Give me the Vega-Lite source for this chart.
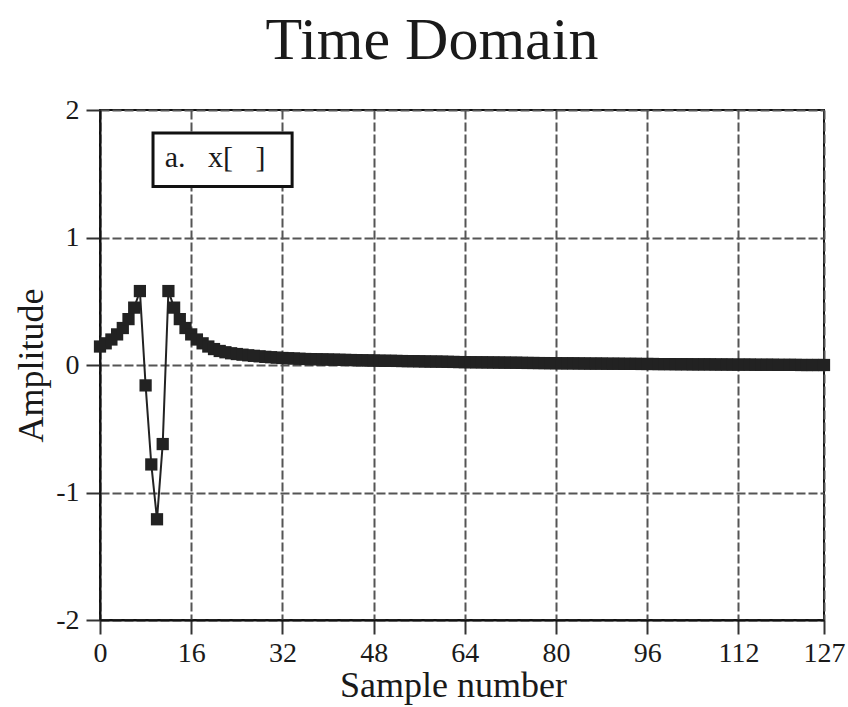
{
  "$schema": "https://vega.github.io/schema/vega-lite/v6.json",
  "width": 724,
  "height": 510,
  "autosize": "none",
  "padding": {"left": 100, "top": 110, "right": 24, "bottom": 87},
  "background": "white",
  "title": {"text": "Time Domain", "font": "Liberation Serif", "fontSize": 60, "fontWeight": "normal", "color": "#1a1a1a", "anchor": "middle", "dx": -30, "offset": 24},
  "config": {
    "view": {"stroke": "#111", "strokeWidth": 2},
    "axis": {
      "labelFont": "Liberation Serif", "labelFontSize": 28, "labelColor": "#1a1a1a",
      "titleFont": "Liberation Serif", "titleFontSize": 36, "titleFontWeight": "normal", "titleColor": "#1a1a1a",
      "domainColor": "#111", "domainWidth": 2, "tickColor": "#333", "tickWidth": 2, "tickSize": 14,
      "grid": true, "gridColor": "#555", "gridWidth": 2, "gridDash": [9, 3], "gridOpacity": 1
    }
  },
  "data": {"values": [
    {"n":0,"v":0.145},{"n":1,"v":0.17},{"n":2,"v":0.2},{"n":3,"v":0.24},{"n":4,"v":0.29},{"n":5,"v":0.36},{"n":6,"v":0.45},{"n":7,"v":0.58},
    {"n":8,"v":-0.16},{"n":9,"v":-0.78},{"n":10,"v":-1.21},{"n":11,"v":-0.62},{"n":12,"v":0.58},{"n":13,"v":0.45},{"n":14,"v":0.36},{"n":15,"v":0.29},
    {"n":16,"v":0.24},{"n":17,"v":0.2},{"n":18,"v":0.17},{"n":19,"v":0.145},{"n":20,"v":0.125},{"n":21,"v":0.11},{"n":22,"v":0.1},{"n":23,"v":0.092},
    {"n":24,"v":0.086},{"n":25,"v":0.081},{"n":26,"v":0.076},{"n":27,"v":0.072},{"n":28,"v":0.068},{"n":29,"v":0.064},{"n":30,"v":0.061},{"n":31,"v":0.058},
    {"n":32,"v":0.055},{"n":33,"v":0.053},{"n":34,"v":0.051},{"n":35,"v":0.049},{"n":36,"v":0.047},{"n":37,"v":0.046},{"n":38,"v":0.045},{"n":39,"v":0.044},
    {"n":40,"v":0.043},{"n":41,"v":0.042},{"n":42,"v":0.041},{"n":43,"v":0.04},{"n":44,"v":0.039},{"n":45,"v":0.038},{"n":46,"v":0.037},{"n":47,"v":0.036},
    {"n":48,"v":0.035},{"n":49,"v":0.034},{"n":50,"v":0.033},{"n":51,"v":0.033},{"n":52,"v":0.032},{"n":53,"v":0.031},{"n":54,"v":0.03},{"n":55,"v":0.03},
    {"n":56,"v":0.029},{"n":57,"v":0.028},{"n":58,"v":0.027},{"n":59,"v":0.027},{"n":60,"v":0.026},{"n":61,"v":0.025},{"n":62,"v":0.024},{"n":63,"v":0.023},
    {"n":64,"v":0.022},{"n":65,"v":0.022},{"n":66,"v":0.021},{"n":67,"v":0.021},{"n":68,"v":0.02},{"n":69,"v":0.02},{"n":70,"v":0.019},{"n":71,"v":0.019},
    {"n":72,"v":0.018},{"n":73,"v":0.018},{"n":74,"v":0.017},{"n":75,"v":0.016},{"n":76,"v":0.016},{"n":77,"v":0.015},{"n":78,"v":0.015},{"n":79,"v":0.014},
    {"n":80,"v":0.014},{"n":81,"v":0.013},{"n":82,"v":0.013},{"n":83,"v":0.013},{"n":84,"v":0.012},{"n":85,"v":0.012},{"n":86,"v":0.011},{"n":87,"v":0.011},
    {"n":88,"v":0.011},{"n":89,"v":0.01},{"n":90,"v":0.01},{"n":91,"v":0.01},{"n":92,"v":0.009},{"n":93,"v":0.009},{"n":94,"v":0.009},{"n":95,"v":0.008},
    {"n":96,"v":0.008},{"n":97,"v":0.008},{"n":98,"v":0.007},{"n":99,"v":0.007},{"n":100,"v":0.007},{"n":101,"v":0.006},{"n":102,"v":0.006},{"n":103,"v":0.006},
    {"n":104,"v":0.005},{"n":105,"v":0.005},{"n":106,"v":0.005},{"n":107,"v":0.005},{"n":108,"v":0.004},{"n":109,"v":0.004},{"n":110,"v":0.004},{"n":111,"v":0.003},
    {"n":112,"v":0.003},{"n":113,"v":0.003},{"n":114,"v":0.003},{"n":115,"v":0.002},{"n":116,"v":0.002},{"n":117,"v":0.002},{"n":118,"v":0.002},{"n":119,"v":0.001},
    {"n":120,"v":0.001},{"n":121,"v":0.001},{"n":122,"v":0.001},{"n":123,"v":0},{"n":124,"v":0},{"n":125,"v":0},{"n":126,"v":0},{"n":127,"v":0}
  ]},
  "layer": [
    {
      "mark": {"type": "line", "color": "#222", "strokeWidth": 2},
      "encoding": {
        "x": {"field": "n", "type": "quantitative", "scale": {"domain": [0, 127], "nice": false, "zero": false},
              "axis": {"values": [0, 16, 32, 48, 64, 80, 96, 112, 127], "title": "Sample number", "labelPadding": 5, "titlePadding": 1, "titleX": 353, "labelFlush": false}},
        "y": {"field": "v", "type": "quantitative", "scale": {"domain": [-2, 2], "nice": false},
              "axis": {"values": [-2, -1, 0, 1, 2], "labelExpr": "'' + datum.value", "title": "Amplitude", "labelPadding": 7, "titlePadding": 5}}
      }
    },
    {
      "mark": {"type": "point", "shape": "square", "filled": true, "color": "#222", "size": 150, "opacity": 1},
      "encoding": {
        "x": {"field": "n", "type": "quantitative"},
        "y": {"field": "v", "type": "quantitative"}
      }
    },
    {
      "data": {"values": [{"x1": 9.3, "x2": 33.7, "y1": 1.82, "y2": 1.4}]},
      "mark": {"type": "rect", "fill": "white", "stroke": "#111", "strokeWidth": 3},
      "encoding": {
        "x": {"field": "x1", "type": "quantitative"},
        "x2": {"field": "x2"},
        "y": {"field": "y1", "type": "quantitative"},
        "y2": {"field": "y2"}
      }
    },
    {
      "data": {"values": [{"x": 20.2, "y": 1.62, "label": "a.\u00a0\u00a0\u00a0x[\u00a0\u00a0\u00a0]"}]},
      "mark": {"type": "text", "font": "Liberation Serif", "fontSize": 30, "color": "#1a1a1a", "align": "center", "baseline": "middle"},
      "encoding": {
        "x": {"field": "x", "type": "quantitative"},
        "y": {"field": "y", "type": "quantitative"},
        "text": {"field": "label"}
      }
    }
  ]
}
